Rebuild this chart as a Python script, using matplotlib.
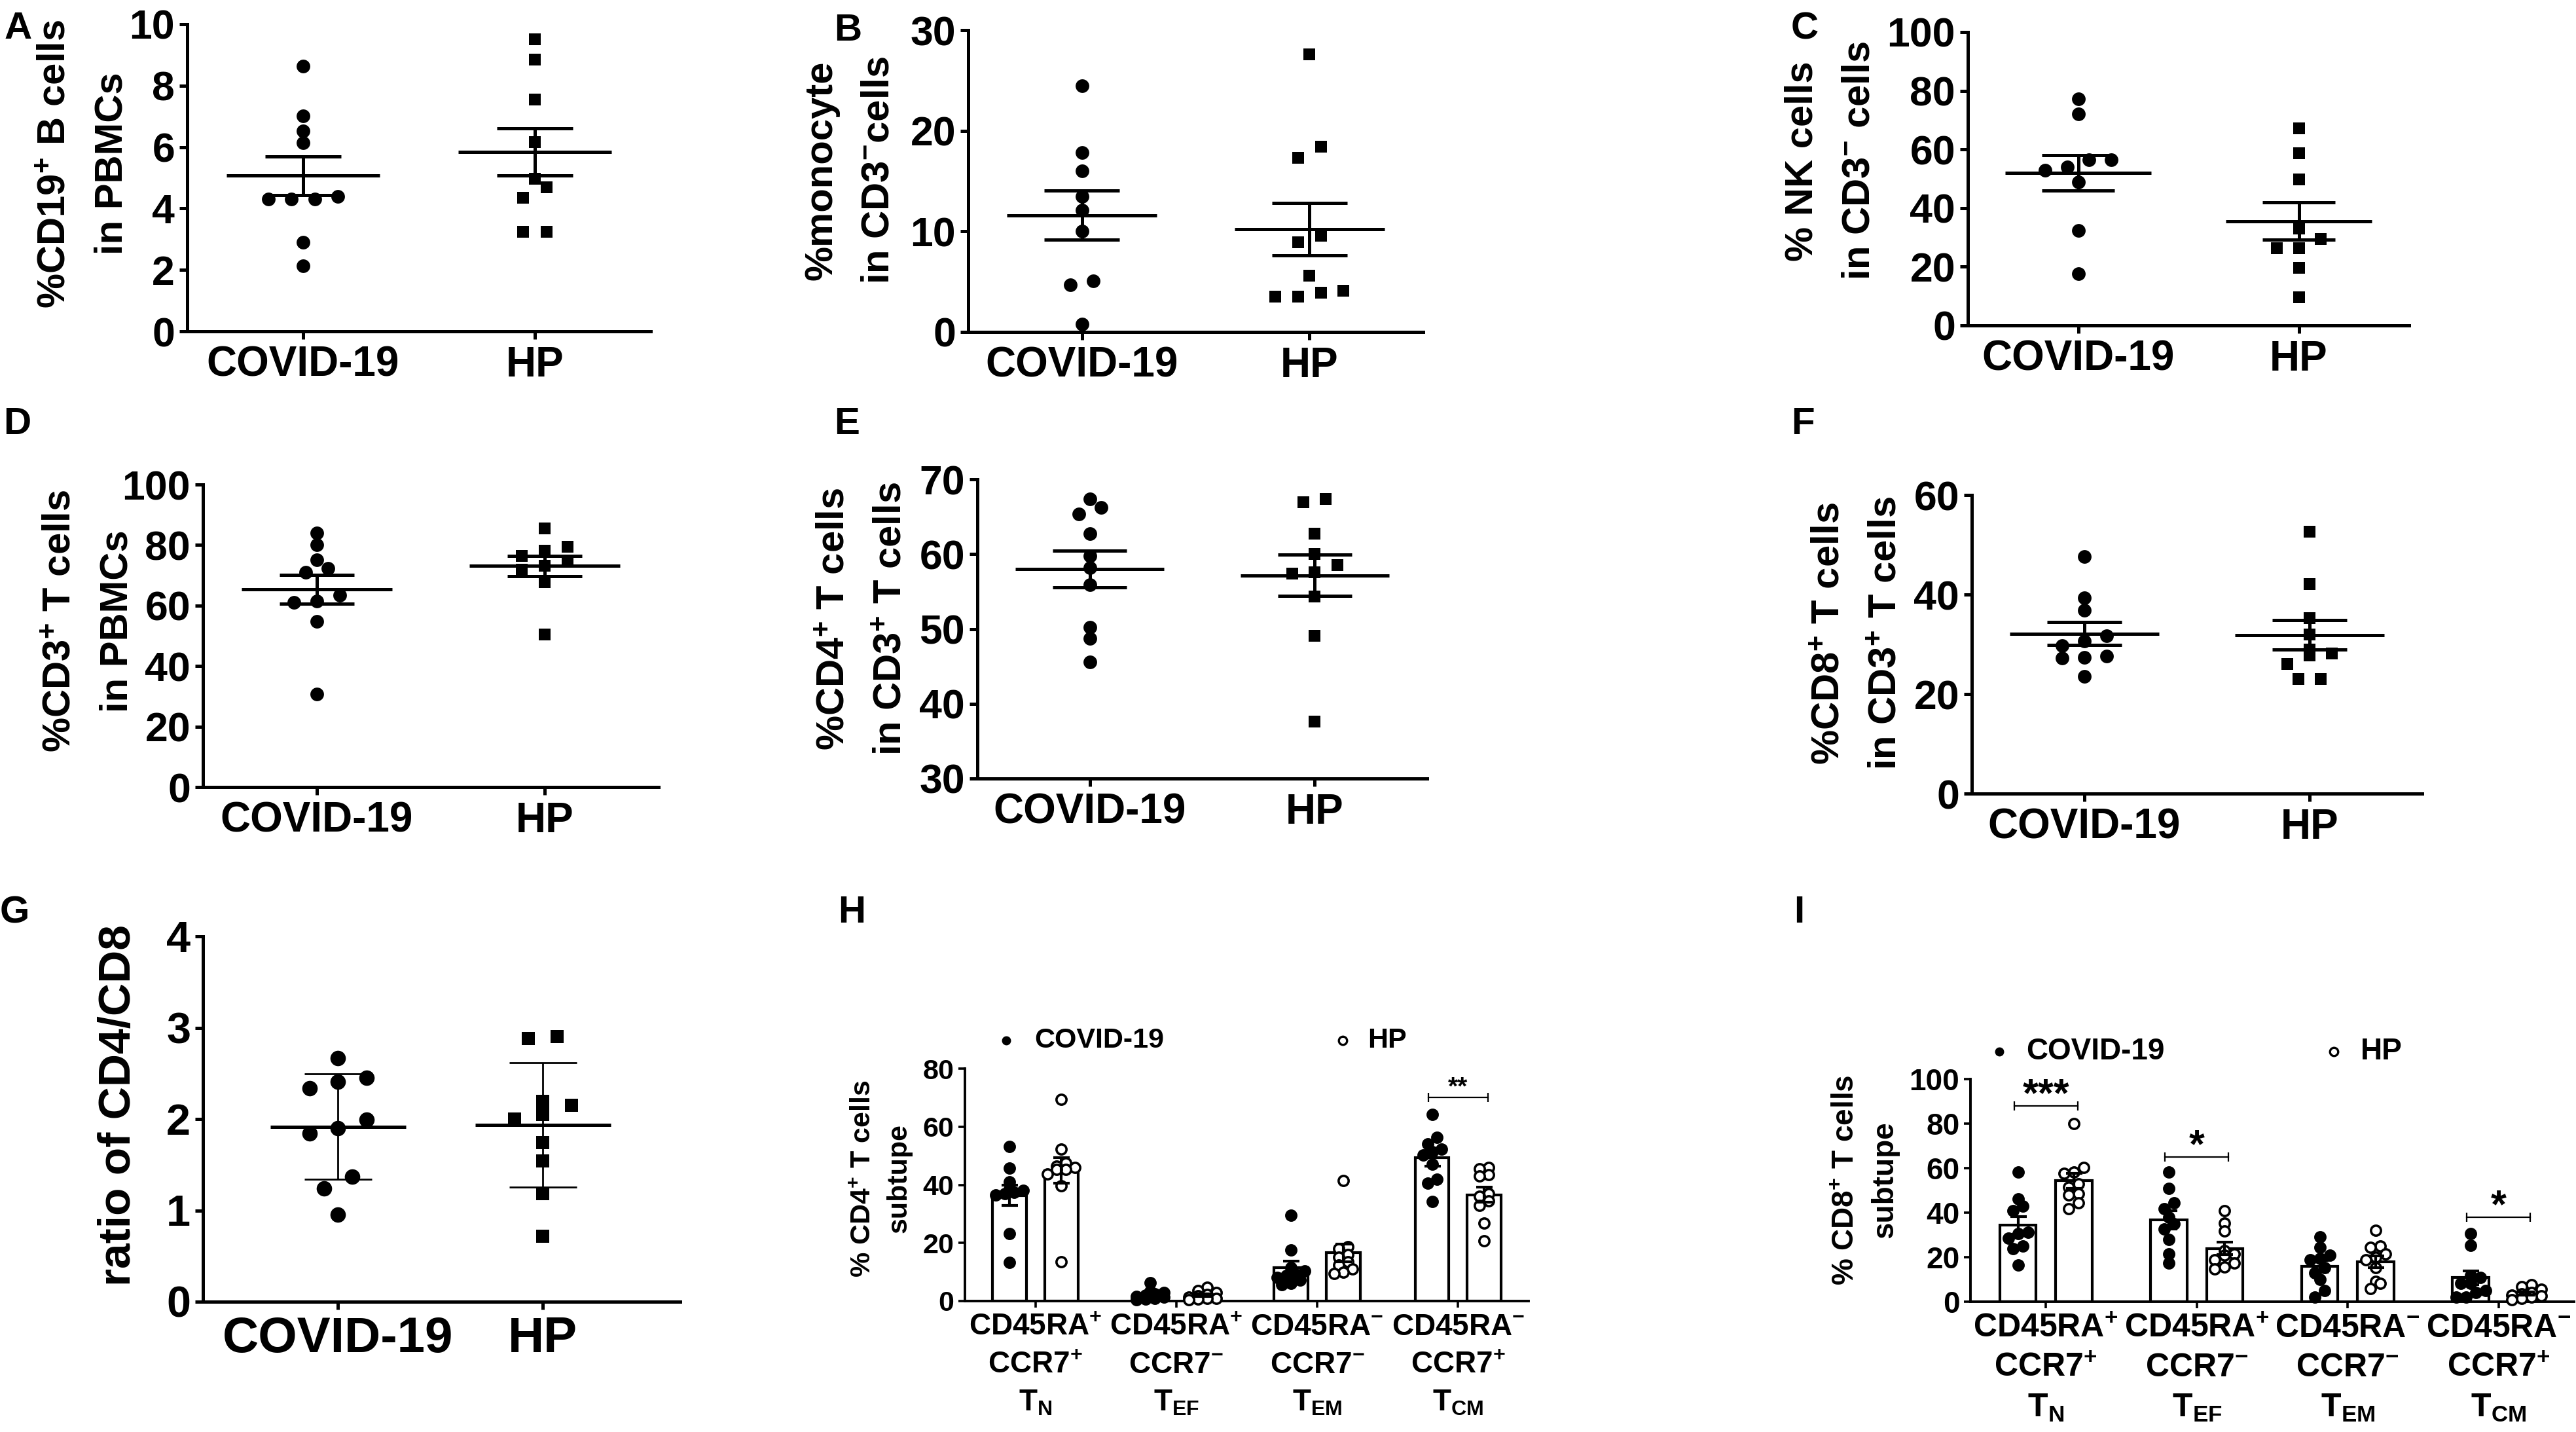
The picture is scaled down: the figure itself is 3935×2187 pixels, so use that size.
import numpy as np
import matplotlib
matplotlib.use('Agg')
import matplotlib.pyplot as plt

plt.rcParams['font.family'] = ['Liberation Sans', 'DejaVu Sans']
plt.rcParams['font.weight'] = 'bold'
plt.rcParams['mathtext.default'] = 'regular'

W, H = 3935, 2187

groups = ['COVID-19', 'HP']

# A  %CD19+ B cells in PBMCs
b_covid = [8.63, 7.02, 6.53, 6.15, 4.4, 4.3, 4.3, 4.3, 2.89, 2.13]
b_hp = [9.5, 8.84, 7.55, 6.17, 4.97, 4.7, 4.35, 3.24, 3.24]
# B  %monocyte in CD3- cells
mono_covid = [24.5, 17.8, 16.0, 13.5, 12.1, 10.0, 5.1, 4.7, 0.8]
mono_hp = [27.6, 18.4, 17.3, 9.56, 8.9, 5.6, 4.1, 3.9, 3.5, 3.5]
# C  % NK cells in CD3- cells
nk_covid = [77.2, 72.0, 56.4, 56.4, 54.0, 53.0, 48.8, 32.3, 17.6]
nk_hp = [67.2, 58.8, 49.7, 33.0, 29.5, 26.4, 26.4, 19.7, 9.5]
# D  %CD3+ T cells in PBMCs
cd3_covid = [83.9, 80.0, 75.2, 72.3, 71.0, 63.5, 61.5, 61.0, 54.7, 30.7]
cd3_hp = [85.4, 79.5, 78.2, 76.4, 75.0, 73.2, 71.9, 67.8, 50.4]
# E  %CD4+ T cells in CD3+ T cells
cd4_covid = [67.4, 66.2, 65.4, 62.7, 59.8, 58.2, 55.9, 50.2, 48.7, 45.6]
cd4_hp = [67.4, 66.9, 62.7, 60.0, 58.5, 57.6, 57.4, 54.3, 49.1, 37.65]
# F  %CD8+ T cells in CD3+ T cells
cd8_covid = [47.6, 39.3, 36.8, 31.7, 30.7, 29.7, 27.6, 27.4, 27.3, 23.5]
cd8_hp = [52.6, 42.1, 35.2, 32.0, 29.0, 28.1, 27.8, 26.1, 23.0, 23.0]
# G  ratio of CD4/CD8
ratio_covid = [2.67, 2.45, 2.41, 2.34, 1.99, 1.90, 1.84, 1.37, 1.24, 0.95]
ratio_hp = [2.90, 2.88, 2.19, 2.15, 2.05, 2.00, 1.74, 1.54, 1.18, 0.72]

subsets = ['CD45RA$^{+}$\nCCR7$^{+}$\nT$_{N}$',
           'CD45RA$^{+}$\nCCR7$^{-}$\nT$_{EF}$',
           'CD45RA$^{-}$\nCCR7$^{-}$\nT$_{EM}$',
           'CD45RA$^{-}$\nCCR7$^{+}$\nT$_{CM}$']

# H  CD4+ subtypes (TN, TEF, TEM, TCM)
h_covid = [[53.2, 45.7, 41.0, 38.5, 38.0, 37.5, 37.0, 36.5, 23.3, 13.2],
           [6.4, 3.4, 3.0, 2.5, 2.0, 1.6, 1.3, 1.0, 0.7, 0.5],
           [29.5, 17.6, 11.4, 10.3, 9.3, 8.7, 8.2, 7.3, 6.1, 5.7],
           [64.3, 56.3, 54.1, 52.3, 51.3, 50.2, 47.0, 42.0, 40.6, 34.3]]
h_hp = [[69.4, 52.3, 47.6, 46.5, 46.0, 45.4, 45.2, 43.8, 39.6, 13.5],
        [4.7, 3.6, 3.0, 2.2, 1.8, 1.3, 1.0, 0.8, 0.6, 0.4],
        [41.4, 18.8, 18.0, 16.0, 15.0, 13.5, 12.5, 11.0, 10.0, 9.5],
        [46.0, 45.5, 43.5, 43.0, 37.0, 36.0, 34.5, 33.0, 26.8, 20.7]]
h_sig = [(3, 70, '**')]

# I  CD8+ subtypes
i_covid = [[58.3, 46.1, 43.0, 41.0, 31.2, 30.5, 28.5, 25.0, 23.9, 16.4],
           [58.1, 51.0, 44.4, 41.9, 38.0, 35.0, 32.6, 27.8, 21.5, 17.4],
           [29.2, 24.3, 20.8, 19.4, 18.8, 15.3, 13.0, 10.0, 4.9, 2.1],
           [30.6, 25.3, 11.8, 10.8, 8.3, 8.1, 4.9, 4.0, 2.1, 2.1]]
i_hp = [[79.9, 60.4, 58.3, 57.6, 52.8, 51.4, 48.6, 48.0, 44.4, 41.7],
        [41.0, 35.4, 31.7, 22.9, 21.5, 20.8, 18.8, 17.4, 15.5, 14.6],
        [32.2, 25.0, 24.3, 21.5, 20.0, 18.8, 15.3, 9.0, 8.3, 5.8],
        [7.6, 6.9, 5.6, 4.2, 3.5, 3.0, 2.6, 2.1, 1.4, 1.0]]
i_sig = [(0, 88, '***'), (1, 65, '*'), (3, 38, '*')]


fig = plt.figure(figsize=(W / 100, H / 100), dpi=100)


def add_ax(box):
    l, t, r, b = box
    ax = fig.add_axes([l / W, 1 - b / H, (r - l) / W, (b - t) / H])
    for s in ['top', 'right']:
        ax.spines[s].set_visible(False)
    return ax


def swarm(values, thr, step, max_row):
    # spread points of about the same value side by side, centred on the group
    values = np.asarray(values, float)
    order = np.argsort(values)
    offs = np.zeros(len(values))
    i = 0
    while i < len(order):
        j = i + 1
        while j < len(order) and j - i < max_row and values[order[j]] - values[order[i]] < thr:
            j += 1
        k = j - i
        for n, idx in enumerate(order[i:j]):
            offs[idx] = (n - (k - 1) / 2) * step
        i = j
    return offs


def scatter_panel(box, ylim, yticks, covid, hp, ylabel, label_xy, big=False):
    ax = add_ax(box)
    px_per_unit = (box[3] - box[1]) / (ylim[1] - ylim[0])
    if big:
        xlim, step, thr, sizes, lw_err, tick_fs, lab_fs, yl_fs = (-0.66, 1.67), 0.14, 22, (17, 14), 2.0, 48, 55, 50
    else:
        xlim, step, thr, sizes, lw_err, tick_fs, lab_fs, yl_fs = (-0.5, 1.5), 0.1, 17, (15, 13.5), 3.6, 45, 46, 43
    for i, (vals, marker, ms) in enumerate([(covid, 'o', sizes[0]), (hp, 's', sizes[1])]):
        v = np.asarray(vals, float)
        offs = swarm(v, thr / px_per_unit, step, 5)
        ax.plot(i + offs, v, ls='none', marker=marker, ms=ms, color='black', mew=0, zorder=3, clip_on=False)
        m = v.mean()
        e = v.std(ddof=1)
        if not big:
            e = e / np.sqrt(len(v))
        ax.hlines(m, i - 0.33, i + 0.33, lw=3.6, color='black', zorder=4)
        ax.vlines(i, m - e, m + e, lw=lw_err, color='black', zorder=4)
        ax.hlines([m - e, m + e], i - 0.165, i + 0.165, lw=lw_err, color='black', zorder=4)
    ax.set_xlim(*xlim)
    ax.set_ylim(*ylim)
    ax.set_yticks(yticks)
    ax.set_xticks([0, 1])
    ax.set_xticklabels(groups, fontsize=lab_fs, fontweight='bold')
    ax.tick_params(axis='y', labelsize=tick_fs, length=8.6, width=3.6, pad=5)
    ax.tick_params(axis='x', length=8.6, width=3.6, pad=7)
    for s in ['left', 'bottom']:
        ax.spines[s].set_linewidth(3.6)
    ax.set_ylabel(ylabel, fontsize=yl_fs, fontweight='bold', linespacing=1.75)
    ax.yaxis.set_label_coords(*label_xy)
    return ax


def bar_panel(box, ylim, yticks, covid_sets, hp_sets, ylabel, label_xy, sigs, fs, legend_pos, star_fs, star_dy):
    ax = add_ax(box)
    px_per_unit = (box[3] - box[1]) / (ylim[1] - ylim[0])
    x = np.arange(len(subsets))
    for off, sets, face in [(-0.185, covid_sets, 'black'), (0.185, hp_sets, 'white')]:
        means = [np.mean(s) for s in sets]
        sems = [np.std(s, ddof=1) / np.sqrt(len(s)) for s in sets]
        ax.bar(x + off, means, width=0.24, facecolor='white', edgecolor='black', linewidth=3, zorder=2)
        for xi, s in zip(x, sets):
            offs = swarm(s, 10 / px_per_unit, 0.065, 4)
            ax.plot(xi + off + offs, s, ls='none', marker='o', ms=11, mfc=face, mec='black',
                    mew=2.6, zorder=3, clip_on=False)
        ax.errorbar(x + off, means, yerr=sems, fmt='none', ecolor='black', elinewidth=3,
                    capsize=9, capthick=3, zorder=4)
    for gi, y, star in sigs:
        ax.plot([gi - 0.21, gi + 0.21], [y, y], color='black', lw=1.6, marker='|', ms=10, mew=1.6, zorder=5)
        ax.text(gi, y + star_dy, star, ha='center', va='baseline', fontsize=star_fs, fontweight='bold')
    ax.set_xlim(-0.5, 3.5)
    ax.set_ylim(*ylim)
    ax.set_yticks(yticks)
    ax.set_xticks(x)
    ax.set_xticklabels(subsets, fontsize=fs[1], fontweight='bold', linespacing=1.4)
    ax.tick_params(axis='y', labelsize=fs[0], length=7, width=2.6, pad=5)
    ax.tick_params(axis='x', length=7, width=2.6, pad=6)
    for s in ['left', 'bottom']:
        ax.spines[s].set_linewidth(2.8)
    ax.set_ylabel(ylabel, fontsize=fs[2], fontweight='bold', linespacing=1.45)
    ax.yaxis.set_label_coords(*label_xy)
    (mx1, tx1, mx2, tx2, ly) = legend_pos
    ax.plot([mx1], [ly], 'o', ms=9, color='black', transform=ax.transAxes, clip_on=False)
    ax.plot([mx2], [ly], 'o', ms=9, mfc='white', mec='black', mew=2.4, transform=ax.transAxes, clip_on=False)
    ax.text(tx1, ly, groups[0], transform=ax.transAxes, va='center', ha='left', fontsize=fs[3], fontweight='bold')
    ax.text(tx2, ly, groups[1], transform=ax.transAxes, va='center', ha='left', fontsize=fs[3], fontweight='bold')
    return ax


scatter_panel((286, 37, 994, 506), (0, 10), [0, 2, 4, 6, 8, 10], b_covid, b_hp,
              '%CD19$^{+}$ B cells\nin PBMCs', (-0.123, 0.546))
scatter_panel((1479, 46, 2174, 507), (0, 30), [0, 10, 20, 30], mono_covid, mono_hp,
              '%monocyte\nin CD3$^{-}$cells', (-0.157, 0.536))
scatter_panel((3006, 49, 3680, 497), (0, 100), [0, 20, 40, 60, 80, 100], nk_covid, nk_hp,
              '% NK cells\nin CD3$^{-}$ cells', (-0.205, 0.56))
scatter_panel((310, 740, 1006, 1202), (0, 100), [0, 20, 40, 60, 80, 100], cd3_covid, cd3_hp,
              '%CD3$^{+}$ T cells\nin PBMCs', (-0.148, 0.548))
scatter_panel((1493, 732, 2180, 1189), (30, 70), [30, 40, 50, 60, 70], cd4_covid, cd4_hp,
              '%CD4$^{+}$ T cells\nin CD3$^{+}$ T cells', (-0.151, 0.534))
scatter_panel((3012, 756, 3700, 1212), (0, 60), [0, 20, 40, 60], cd8_covid, cd8_hp,
              '%CD8$^{+}$ T cells\nin CD3$^{+}$ T cells', (-0.150, 0.537))
scatter_panel((310, 1430, 1039, 1988), (0, 4), [0, 1, 2, 3, 4], ratio_covid, ratio_hp,
              'ratio of CD4/CD8', (-0.133, 0.538), big=True)

bar_panel((1474, 1632, 2335, 1987), (0, 80), [0, 20, 40, 60, 80], h_covid, h_hp,
          '% CD4$^{+}$ T cells\nsubtupe', (-0.094, 0.527), h_sig, (31, 33, 31, 31),
          (0.073, 0.123, 0.670, 0.715, 1.12), 28, 1.0)
bar_panel((3010, 1648, 3932, 1988), (0, 100), [0, 20, 40, 60, 80, 100], i_covid, i_hp,
          '% CD8$^{+}$ T cells\nsubtupe', (-0.118, 0.547), i_sig, (33, 36, 33, 33),
          (0.048, 0.092, 0.602, 0.646, 1.124), 44, 0.0)

letters = [('A', 7, 17), ('B', 1274, 20), ('C', 2736, 17),
           ('D', 5, 621), ('E', 1274, 621), ('F', 2736, 621),
           ('G', 0, 1367), ('H', 1280, 1367), ('I', 2740, 1367)]
for lab, lx, ly in letters:
    fig.text(lx / W, 1 - ly / H, lab, ha='left', va='top', fontsize=42, fontweight='bold')

fig.savefig('out.png', dpi=100)
